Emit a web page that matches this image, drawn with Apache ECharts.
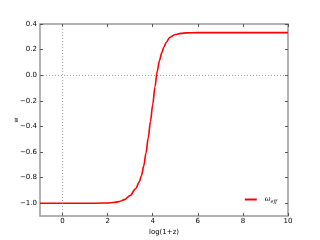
<!DOCTYPE html>
<html><head><meta charset="utf-8">
<script src="https://cdn.jsdelivr.net/npm/echarts@6/dist/echarts.min.js"></script>
<style>html,body{margin:0;padding:0;background:#fff}#c{width:320px;height:240px}</style>
</head><body><div id="c"></div>
<script>
const logZ = [-1, 0, 1, 1.5, 2, 2.25, 2.5, 2.75, 3.0, 3.25, 3.4, 3.5, 3.6, 3.7, 3.8, 3.9, 4.0, 4.1, 4.2, 4.3, 4.4, 4.5, 4.6, 4.75, 5.0, 5.25, 5.5, 6, 7, 8, 9, 10];
const wEff = [-1.0, -1.0, -1.0, -1.0, -0.998, -0.995, -0.988, -0.972, -0.94, -0.885, -0.835, -0.785, -0.71, -0.61, -0.49, -0.36, -0.23, -0.09, 0.03, 0.115, 0.175, 0.222, 0.258, 0.295, 0.318, 0.327, 0.331, 0.333, 0.333, 0.333, 0.333, 0.333];
const xTicks = [0, 2, 4, 6, 8, 10];
const yTicks = [-1.0, -0.8, -0.6, -0.4, -0.2, 0.0, 0.2, 0.4];
const seriesName = 'ω_eff';

const font = 'DejaVu Sans';
const axisCol = '#999';
function xAx(pos, showLabel) {
  return {
    type: 'value', position: pos, min: -1, max: 10,
    axisLine: {show: true, onZero: false, lineStyle: {color: axisCol, width: 1.5}},
    axisTick: {show: true, inside: true, length: 3, customValues: xTicks, lineStyle: {color: '#555', width: 1}},
    axisLabel: {show: showLabel, customValues: xTicks, fontFamily: font, fontSize: 7, color: '#000', margin: 2,
      formatter: v => String(v)},
    splitLine: {show: false},
    name: showLabel ? 'log(1+z)' : '', nameLocation: 'middle', nameGap: 13, nameMoveOverlap: false,
    nameTextStyle: {fontFamily: font, fontSize: 7, color: '#000'}
  };
}
function yAx(pos, showLabel) {
  return {
    type: 'value', position: pos, min: -1.1, max: 0.4,
    axisLine: {show: true, onZero: false, lineStyle: {color: axisCol, width: 1.5}},
    axisTick: {show: true, inside: true, length: 3, customValues: yTicks, lineStyle: {color: '#555', width: 1}},
    axisLabel: {show: showLabel, customValues: yTicks, fontFamily: font, fontSize: 7, color: '#000', margin: 3,
      formatter: v => (v < 0 ? '\u2212' : '') + Math.abs(v).toFixed(1)},
    splitLine: {show: false},
    name: showLabel ? 'w' : '', nameLocation: 'middle', nameGap: 21, nameRotate: 90, nameMoveOverlap: false,
    nameTextStyle: {fontFamily: font, fontSize: 6, color: '#000'}
  };
}
const chart = echarts.init(document.getElementById('c'), null, {renderer: 'canvas'});
chart.setOption({
  animation: false,
  backgroundColor: '#fff',
  grid: {left: 40, right: 32, top: 24, bottom: 24, containLabel: false, outerBoundsMode: 'none'},
  xAxis: [xAx('bottom', true), xAx('top', false)],
  yAxis: [yAx('left', true), yAx('right', false)],
  legend: {
    right: 38, bottom: 31, itemWidth: 12, itemHeight: 2, itemGap: 6,
    icon: 'rect',
    data: [seriesName],
    formatter: () => '{w|ω}{s|eff}',
    textStyle: {
      rich: {
        w: {fontFamily: 'DejaVu Serif', fontStyle: 'italic', fontSize: 7, color: '#000', padding: [0, 0, 0, 3]},
        s: {fontFamily: 'DejaVu Serif', fontStyle: 'italic', fontSize: 5, color: '#000', padding: [4, 0, 0, 0]}
      }
    }
  },
  series: [{
    name: seriesName, type: 'line', xAxisIndex: 0, yAxisIndex: 0,
    data: logZ.map((x, i) => [x, wEff[i]]),
    smooth: 0.3, smoothMonotone: 'x', showSymbol: false, symbol: 'none',
    lineStyle: {color: '#ff0000', width: 1.6}, itemStyle: {color: '#ff0000'},
    markLine: {
      silent: true, symbol: 'none', label: {show: false},
      lineStyle: {color: '#888', type: [1, 2], width: 0.8},
      data: [{xAxis: 0}, {yAxis: 0}]
    },
    z: 3
  }]
});
</script></body></html>
